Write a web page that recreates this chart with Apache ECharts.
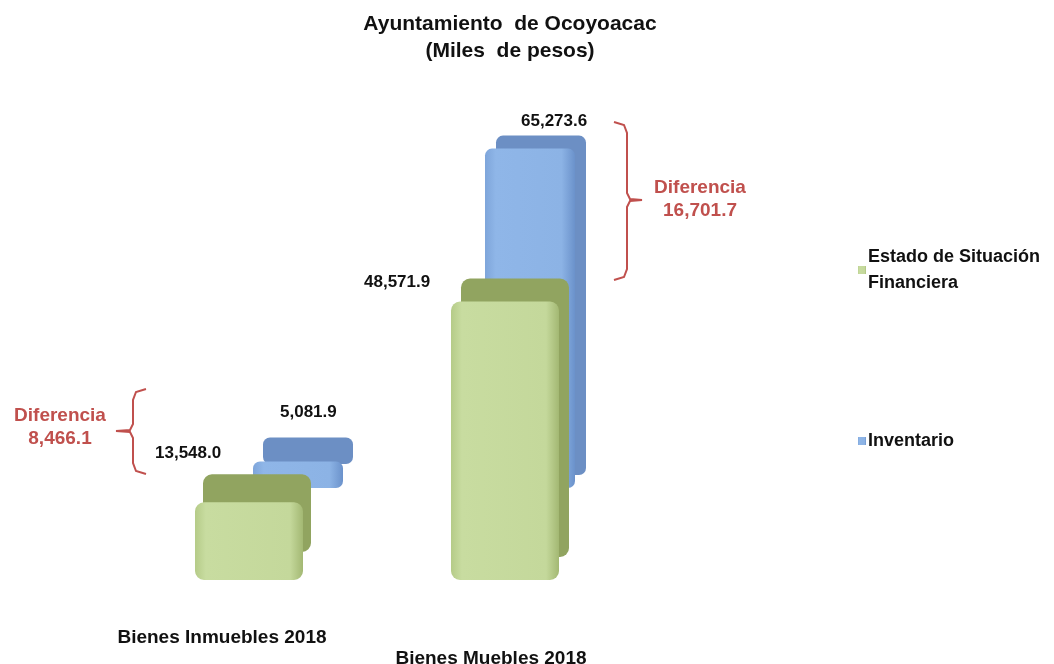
<!DOCTYPE html>
<html>
<head>
<meta charset="utf-8">
<script src="https://cdn.jsdelivr.net/npm/echarts@6/dist/echarts.min.js"></script>
<style>
    html, body { margin: 0; padding: 0; background: #fff; }
    #chart { width: 1054px; height: 664px; }
</style>
</head>
<body>
<div id="chart"></div>
<script>
// datos
var categorias = ['Bienes Inmuebles 2018', 'Bienes Muebles 2018'];
var estadoFinanciero = [13548.0, 48571.9];
var inventario = [5081.9, 65273.6];
var diferencias = [8466.1, 16701.7];

function fmt(v) {
    return v.toLocaleString('en-US', { minimumFractionDigits: 1, maximumFractionDigits: 1 });
}

var FONT = '"Liberation Sans", Arial, sans-serif';
var rojo = '#c0504d';

var dom = document.getElementById('chart');
var myChart = echarts.init(dom, null, { renderer: 'canvas' });

// posiciones de etiquetas y "profundidad" de cada barra
var posVerde = [[-40, -58], [-87, -28]];
var posAzul = [[27, -58], [36, -36]];
var fondoVerde = [[8, -28], [10, -23]];
var fondoAzul = [[10, -24], [11, -13]];

var option = {
    backgroundColor: '#ffffff',
    animation: false,
    title: {
        text: 'Ayuntamiento  de Ocoyoacac\n(Miles  de pesos)',
        left: 505,
        textAlign: 'center',
        top: 6,
        textStyle: {
            fontFamily: FONT,
            fontSize: 21,
            fontWeight: 'bold',
            color: '#111',
            lineHeight: 27
        }
    },
    legend: {
        orient: 'vertical',
        left: 853,
        top: 239,
        itemWidth: 8,
        itemHeight: 8,
        itemGap: 132,
        icon: 'rect',
        data: ['Estado de Situación Financiera', 'Inventario'],
        formatter: function (name) {
            return name === 'Estado de Situación Financiera' ? 'Estado de Situación\nFinanciera' : name;
        },
        textStyle: {
            fontFamily: FONT,
            fontSize: 18,
            fontWeight: 'bold',
            color: '#111',
            lineHeight: 26,
            padding: [0, 0, 0, -3]
        }
    },
    grid: [
        // barras de atrás (inventario)
        { left: 182, right: 408, top: 124, bottom: 176, outerBoundsMode: 'none' },
        // barras de adelante (estado financiero)
        { left: 121, right: 421, top: 236, bottom: 84, outerBoundsMode: 'none' }
    ],
    xAxis: [
        {
            type: 'category', gridIndex: 0, data: categorias,
            axisLine: { show: false }, axisTick: { show: false }, axisLabel: { show: false }
        },
        {
            type: 'category', gridIndex: 1,
            data: [
                { value: categorias[0], textStyle: { padding: [0, 54, 0, 0] } },
                { value: categorias[1], textStyle: { padding: [21, 28, 0, 0] } }
            ],
            axisLine: { show: false }, axisTick: { show: false },
            axisLabel: {
                interval: 0,
                hideOverlap: false,
                margin: 48,
                fontFamily: FONT,
                fontSize: 19,
                fontWeight: 'bold',
                color: '#111'
            }
        }
    ],
    yAxis: [
        { type: 'value', gridIndex: 0, min: 0, max: 70000, show: false, splitLine: { show: false } },
        { type: 'value', gridIndex: 1, min: 0, max: 60000, show: false, splitLine: { show: false } }
    ],
    series: [
        {
            name: 'Inventario',
            type: 'bar',
            xAxisIndex: 0,
            yAxisIndex: 0,
            barWidth: 90,
            z: 2,
            data: inventario.map(function (v, i) {
                return {
                    value: v,
                    label: { position: posAzul[i] },
                    itemStyle: { shadowOffsetX: fondoAzul[i][0], shadowOffsetY: fondoAzul[i][1] }
                };
            }),
            itemStyle: {
                color: new echarts.graphic.LinearGradient(0, 0, 1, 0, [
                    { offset: 0, color: '#7ea5da' },
                    { offset: 0.12, color: '#8fb6e8' },
                    { offset: 0.85, color: '#8cb3e5' },
                    { offset: 1, color: '#6b92cb' }
                ]),
                borderRadius: 7,
                shadowColor: '#6c8fc4',
                shadowBlur: 0
            },
            label: {
                show: true,
                formatter: function (p) { return fmt(p.value); },
                fontFamily: FONT,
                fontSize: 17,
                fontWeight: 'bold',
                color: '#111'
            }
        },
        {
            name: 'Estado de Situación Financiera',
            type: 'bar',
            xAxisIndex: 1,
            yAxisIndex: 1,
            barWidth: 108,
            z: 3,
            data: estadoFinanciero.map(function (v, i) {
                return {
                    value: v,
                    label: { position: posVerde[i] },
                    itemStyle: { shadowOffsetX: fondoVerde[i][0], shadowOffsetY: fondoVerde[i][1] }
                };
            }),
            itemStyle: {
                color: new echarts.graphic.LinearGradient(0, 0, 1, 0, [
                    { offset: 0, color: '#b5cb88' },
                    { offset: 0.1, color: '#c8dca0' },
                    { offset: 0.88, color: '#c4d89b' },
                    { offset: 1, color: '#a3b873' }
                ]),
                borderRadius: 9,
                shadowColor: '#91a460',
                shadowBlur: 0
            },
            label: {
                show: true,
                formatter: function (p) { return fmt(p.value); },
                fontFamily: FONT,
                fontSize: 17,
                fontWeight: 'bold',
                color: '#111'
            }
        }
    ],
    graphic: [
        // llave izquierda
        {
            type: 'polyline',
            shape: { points: [[146, 389], [136, 392], [133, 400], [133, 424], [130, 430], [116, 431], [130, 432], [133, 438], [133, 463], [136, 471], [146, 474]] },
            style: { stroke: rojo, lineWidth: 2, fill: null }
        },
        {
            type: 'text',
            x: 60, y: 404,
            style: {
                text: 'Diferencia\n' + fmt(diferencias[0]),
                align: 'center',
                verticalAlign: 'top',
                fill: rojo,
                font: 'bold 19px ' + FONT,
                lineHeight: 23
            }
        },
        // llave derecha
        {
            type: 'polyline',
            shape: { points: [[614, 122], [624, 125], [627, 133], [627, 193], [630, 199], [642, 200], [630, 201], [627, 207], [627, 269], [624, 277], [614, 280]] },
            style: { stroke: rojo, lineWidth: 2, fill: null }
        },
        {
            type: 'text',
            x: 700, y: 176,
            style: {
                text: 'Diferencia\n' + fmt(diferencias[1]),
                align: 'center',
                verticalAlign: 'top',
                fill: rojo,
                font: 'bold 19px ' + FONT,
                lineHeight: 23
            }
        }
    ]
};

if (option && typeof option === 'object') {
    myChart.setOption(option);
}

window.addEventListener('resize', myChart.resize);
</script>
</body>
</html>
